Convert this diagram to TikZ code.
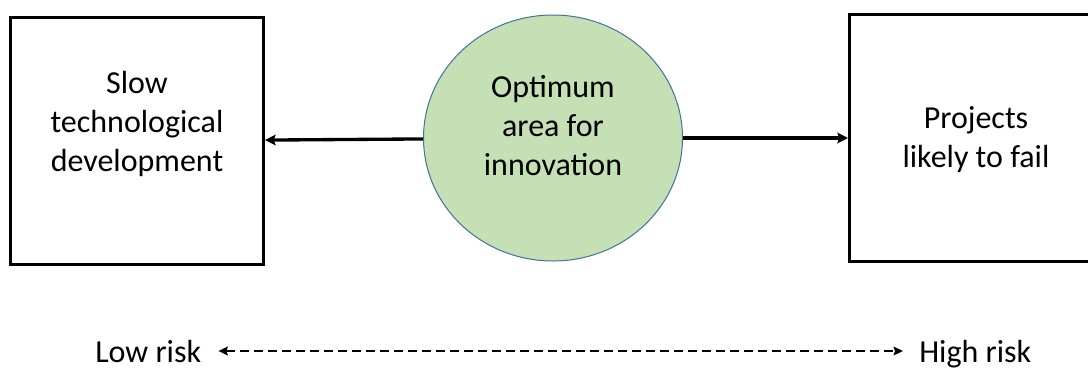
\documentclass[tikz,border=0pt]{standalone}
\usepackage{fontspec}
\setmainfont{Carlito}
\usetikzlibrary{arrows.meta,shapes.geometric}

\definecolor{leafgreen}{HTML}{C5E0B4}
\definecolor{rimblue}{HTML}{41719C}

\begin{document}
\begin{tikzpicture}[->,>={Stealth[length=8pt,width=8pt,inset=1.5pt]},x=0.75pt,y=-0.75pt,
                    font=\fontsize{24pt}{29.25pt}\selectfont]
  \tikzstyle{plainbox}=[draw,line width=2.6pt,minimum width=189.4pt,minimum height=185pt]
  \tikzstyle{zone}=[ellipse,fill=leafgreen,draw=rimblue,line width=0.75pt,
                    minimum width=194.25pt,minimum height=184.5pt,inner sep=0pt]
  \tikzstyle{words}=[align=center]
  \tikzstyle{risk}=[anchor=base west,inner sep=0pt]

  \useasboundingbox (0,0) rectangle (1088,368);

  \node[zone]     (opt)  at (553,138) {};
  \node[plainbox] (slow) [node distance=312pt,left of=opt,yshift=-2.25pt] {};
  \node[plainbox] (fail) [node distance=317.25pt,right of=opt] {};

  \node[words] (opttext)  at ([yshift=9.5pt]opt.center) {Optimum\\area for\\innovation};
  \node[words] (slowtext) at ([yshift=12.75pt]slow.center) {Slow\\technological\\development};
  \node[words] (failtext) at ([yshift=-1.5pt]fail.center) {Projects\\likely to fail};

  \node[risk] (low)  at (95,362)  {Low risk};
  \node[risk] (high) at (919,362) {High risk};

  \draw[line width=2.5pt] (opt) -- (slow);
  \draw[line width=2.5pt] (opt) -- (fail);
  \draw[<->,>={Stealth[length=7pt,width=6.5pt,inset=1pt]},line width=2pt,
        dash pattern=on 7pt off 3.5pt,
        shorten <=12.75pt,shorten >=12pt] (low.east) -- (low.east -| high.west);

\end{tikzpicture}
\end{document}
